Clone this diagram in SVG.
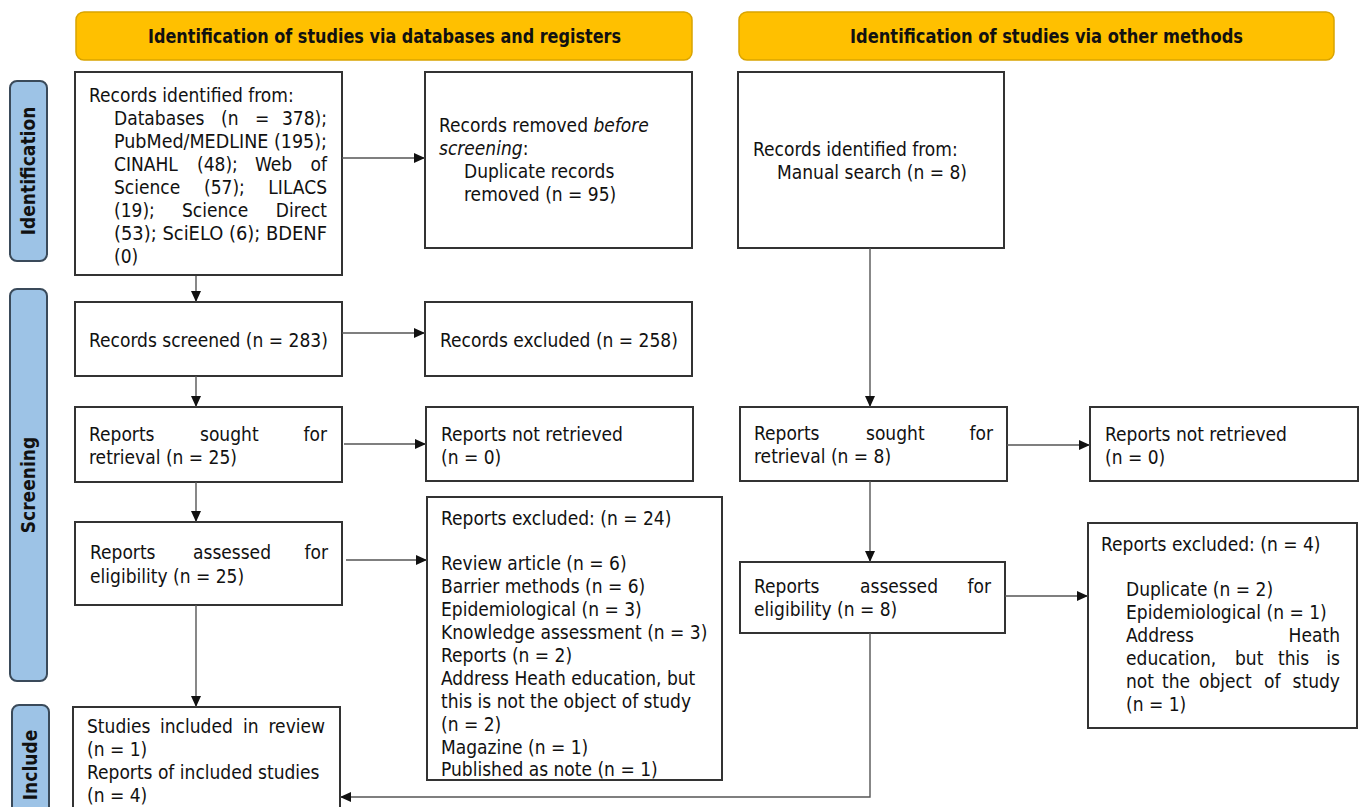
<svg xmlns="http://www.w3.org/2000/svg" width="1363" height="807" viewBox="0 0 1363 807">
<defs>
<style>
.hdr{fill:#FFC000;stroke:#D9A400;stroke-width:1.5}
.side{fill:#9DC3E6;stroke:#3A4A5A;stroke-width:2}
.box{fill:#fff;stroke:#333;stroke-width:2}
.t{font-family:"DejaVu Sans Condensed","DejaVu Sans",sans-serif;font-size:19px;fill:#111}
.b{font-family:"DejaVu Sans Condensed","DejaVu Sans",sans-serif;font-size:19px;font-weight:bold;fill:#111}
.e{text-anchor:end}
.c{text-anchor:middle}
.con{fill:none;stroke:#555;stroke-width:1.4}
</style>
<marker id="arr" markerWidth="12" markerHeight="10" refX="11" refY="5" orient="auto" markerUnits="userSpaceOnUse">
<path d="M0,0 L11,5 L0,10 Z" fill="#111"/>
</marker>
</defs>
<rect width="1363" height="807" fill="#fff"/>

<g id="header-db">
<rect class="hdr" x="76" y="12" width="616" height="48" rx="8"/>
<text class="b" x="148" y="43" font-size="18" textLength="473" lengthAdjust="spacingAndGlyphs">Identification of studies via databases and registers</text>
</g>
<g id="header-other">
<rect class="hdr" x="739" y="12" width="595" height="48" rx="8"/>
<text class="b" x="850" y="43" font-size="18" textLength="393" lengthAdjust="spacingAndGlyphs">Identification of studies via other methods</text>
</g>

<g id="side-identification">
<rect class="side" x="10" y="81" width="37" height="180" rx="7"/>
<text class="b c" transform="translate(35,171) rotate(-90)">Identification</text>
</g>
<g id="side-screening">
<rect class="side" x="10" y="289" width="37" height="392" rx="7"/>
<text class="b c" transform="translate(35,485) rotate(-90)">Screening</text>
</g>
<g id="side-include">
<rect class="side" x="12" y="705" width="37" height="120" rx="7"/>
<text class="b c" transform="translate(37,765) rotate(-90)">Include</text>
</g>

<g id="records-identified">
<rect class="box" x="75" y="72" width="267" height="203"/>
<text class="t" x="89" y="102">Records identified from:</text>
<text class="t" x="114" y="125">Databases</text><text class="t" x="221" y="125">(n</text><text class="t" x="255" y="125">=</text><text class="t e" x="327" y="125">378);</text>
<text class="t" x="114" y="148" textLength="213" lengthAdjust="spacingAndGlyphs">PubMed/MEDLINE (195);</text>
<text class="t" x="114" y="171">CINAHL</text><text class="t" x="197" y="171">(48);</text><text class="t" x="255" y="171">Web</text><text class="t e" x="327" y="171">of</text>
<text class="t" x="114" y="194">Science</text><text class="t" x="204" y="194">(57);</text><text class="t e" x="327" y="194">LILACS</text>
<text class="t" x="114" y="217">(19);</text><text class="t" x="182" y="217">Science</text><text class="t e" x="327" y="217">Direct</text>
<text class="t" x="114" y="240" textLength="213" lengthAdjust="spacingAndGlyphs">(53); SciELO (6); BDENF</text>
<text class="t" x="114" y="263">(0)</text>
</g>

<g id="records-removed">
<rect class="box" x="425" y="72" width="267" height="176"/>
<text class="t" x="439" y="132">Records removed <tspan font-style="italic">before</tspan></text>
<text class="t" x="439" y="155"><tspan font-style="italic">screening</tspan>:</text>
<text class="t" x="464" y="178">Duplicate records</text>
<text class="t" x="464" y="201">removed (n = 95)</text>
</g>

<g id="manual-search">
<rect class="box" x="738" y="72" width="266" height="176"/>
<text class="t" x="753" y="156">Records identified from:</text>
<text class="t" x="777" y="179">Manual search (n = 8)</text>
</g>

<g id="records-screened">
<rect class="box" x="75" y="302" width="267" height="74"/>
<text class="t" x="89" y="347">Records screened (n = 283)</text>
</g>
<g id="records-excluded">
<rect class="box" x="425" y="302" width="267" height="74"/>
<text class="t" x="440" y="347">Records excluded (n = 258)</text>
</g>

<g id="sought-left">
<rect class="box" x="75" y="407" width="267" height="75"/>
<text class="t" x="89" y="441">Reports</text><text class="t" x="200" y="441">sought</text><text class="t e" x="327" y="441">for</text>
<text class="t" x="89" y="464">retrieval (n = 25)</text>
</g>
<g id="notretrieved-left">
<rect class="box" x="426" y="407" width="267" height="74"/>
<text class="t" x="441" y="441">Reports not retrieved</text>
<text class="t" x="441" y="464">(n = 0)</text>
</g>

<g id="assessed-left">
<rect class="box" x="75" y="522" width="267" height="83"/>
<text class="t" x="90" y="559">Reports</text><text class="t" x="193" y="559">assessed</text><text class="t e" x="328" y="559">for</text>
<text class="t" x="90" y="583">eligibility (n = 25)</text>
</g>
<g id="excluded-left">
<rect class="box" x="427" y="497" width="295" height="283"/>
<text class="t" x="441" y="525">Reports excluded: (n = 24)</text>
<text class="t" x="441" y="570">Review article (n = 6)</text>
<text class="t" x="441" y="593">Barrier methods (n = 6)</text>
<text class="t" x="441" y="616">Epidemiological (n = 3)</text>
<text class="t" x="441" y="639">Knowledge assessment (n = 3)</text>
<text class="t" x="441" y="662">Reports (n = 2)</text>
<text class="t" x="441" y="685">Address Heath education, but</text>
<text class="t" x="441" y="708">this is not the object of study</text>
<text class="t" x="441" y="731">(n = 2)</text>
<text class="t" x="441" y="754">Magazine (n = 1)</text>
<text class="t" x="441" y="776">Published as note (n = 1)</text>
</g>

<g id="included">
<rect class="box" x="73" y="707" width="267" height="110"/>
<text class="t" x="87" y="733">Studies</text><text class="t" x="160" y="733">included</text><text class="t" x="243" y="733">in</text><text class="t e" x="325" y="733">review</text>
<text class="t" x="87" y="756">(n = 1)</text>
<text class="t" x="87" y="779">Reports of included studies</text>
<text class="t" x="87" y="802">(n = 4)</text>
</g>

<g id="sought-right">
<rect class="box" x="740" y="407" width="267" height="74"/>
<text class="t" x="754" y="440">Reports</text><text class="t" x="866" y="440">sought</text><text class="t e" x="993" y="440">for</text>
<text class="t" x="754" y="463">retrieval (n = 8)</text>
</g>
<g id="notretrieved-right">
<rect class="box" x="1090" y="407" width="268" height="74"/>
<text class="t" x="1105" y="441">Reports not retrieved</text>
<text class="t" x="1105" y="464">(n = 0)</text>
</g>

<g id="assessed-right">
<rect class="box" x="740" y="562" width="265" height="71"/>
<text class="t" x="754" y="593">Reports</text><text class="t" x="860" y="593">assessed</text><text class="t e" x="991" y="593">for</text>
<text class="t" x="754" y="616">eligibility (n = 8)</text>
</g>
<g id="excluded-right">
<rect class="box" x="1088" y="523" width="269" height="205"/>
<text class="t" x="1101" y="551">Reports excluded: (n = 4)</text>
<text class="t" x="1126" y="596">Duplicate (n = 2)</text>
<text class="t" x="1126" y="619">Epidemiological (n = 1)</text>
<text class="t" x="1126" y="642">Address</text><text class="t e" x="1340" y="642">Heath</text>
<text class="t" x="1126" y="665">education,</text><text class="t" x="1235" y="665">but</text><text class="t" x="1278" y="665">this</text><text class="t e" x="1340" y="665">is</text>
<text class="t" x="1126" y="688">not</text><text class="t" x="1162" y="688">the</text><text class="t" x="1199" y="688">object</text><text class="t" x="1264" y="688">of</text><text class="t e" x="1340" y="688">study</text>
<text class="t" x="1126" y="711">(n = 1)</text>
</g>

<g id="connectors">
<path class="con" d="M196,276 V302" marker-end="url(#arr)"/>
<path class="con" d="M196,376 V407" marker-end="url(#arr)"/>
<path class="con" d="M196,482 V522" marker-end="url(#arr)"/>
<path class="con" d="M196,605 V707" marker-end="url(#arr)"/>
<path class="con" d="M342,158 H425" marker-end="url(#arr)"/>
<path class="con" d="M342,333 H425" marker-end="url(#arr)"/>
<path class="con" d="M344,444 H426" marker-end="url(#arr)"/>
<path class="con" d="M346,560 H427" marker-end="url(#arr)"/>
<path class="con" d="M870,248 V407" marker-end="url(#arr)"/>
<path class="con" d="M870,481 V562" marker-end="url(#arr)"/>
<path class="con" d="M870,633 V797 H340" marker-end="url(#arr)"/>
<path class="con" d="M1007,445 H1090" marker-end="url(#arr)"/>
<path class="con" d="M1005,596 H1088" marker-end="url(#arr)"/>
</g>
</svg>
